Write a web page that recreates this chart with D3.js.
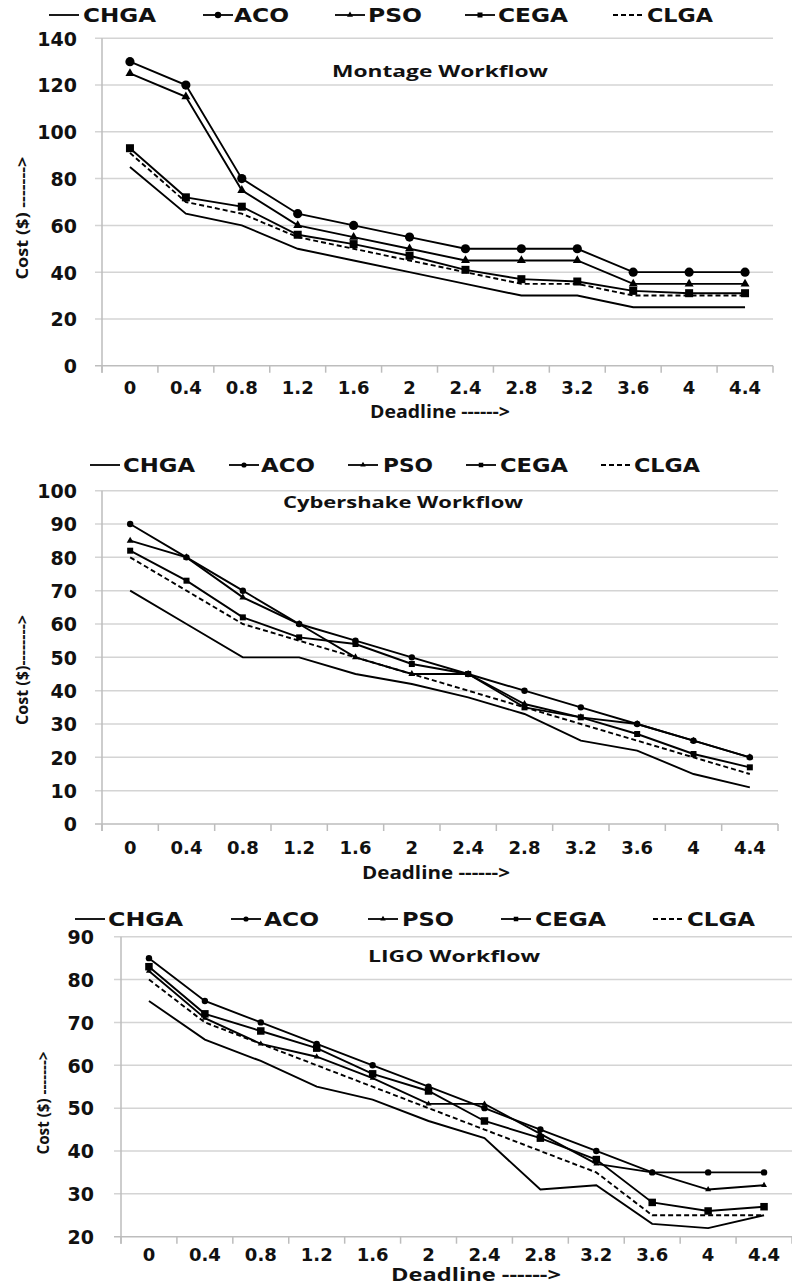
<!DOCTYPE html>
<html><head><meta charset="utf-8">
<script src="https://cdn.jsdelivr.net/npm/d3@7"></script>
<style>html,body{margin:0;padding:0;background:#fff;} svg{display:block}</style>
</head><body>
<svg id="chart" width="792" height="1287"></svg>
<script>
// ---------- DATA ----------
const deadlines = ["0","0.4","0.8","1.2","1.6","2","2.4","2.8","3.2","3.6","4","4.4"];
const algorithms = ["CHGA","ACO","PSO","CEGA","CLGA"];

const montageCHGA = [85,65,60,50,45,40,35,30,30,25,25,25];
const montageACO  = [130,120,80,65,60,55,50,50,50,40,40,40];
const montagePSO  = [125,115,75,60,55,50,45,45,45,35,35,35];
const montageCEGA = [93,72,68,56,52,47,41,37,36,32,31,31];
const montageCLGA = [91,70,65,55,50,45,40,35,35,30,30,30];
const montageTicks = [0,20,40,60,80,100,120,140];

const cyberCHGA = [70,60,50,50,45,42,38,33,25,22,15,11];
const cyberACO  = [90,80,70,60,55,50,45,40,35,30,25,20];
const cyberPSO  = [85,80,68,60,50,45,45,36,32,30,25,20];
const cyberCEGA = [82,73,62,56,54,48,45,35,32,27,21,17];
const cyberCLGA = [80,70,60,55,50,45,40,35,30,25,20,15];
const cyberTicks = [0,10,20,30,40,50,60,70,80,90,100];

const ligoCHGA = [75,66,61,55,52,47,43,31,32,23,22,25];
const ligoACO  = [85,75,70,65,60,55,50,45,40,35,35,35];
const ligoPSO  = [82,71,65,62,57,51,51,44,37,35,31,32];
const ligoCEGA = [83,72,68,64,58,54,47,43,38,28,26,27];
const ligoCLGA = [80,70,65,60,55,50,45,40,35,25,25,25];
const ligoTicks = [20,30,40,50,60,70,80,90];

const titles = ["Montage Workflow","Cybershake Workflow","LIGO Workflow"];
const yTitles = ["Cost  ($) ------->","Cost ($)-------->","Cost ($) ------->"];
const xTitle = "Deadline ------>";

// ---------- LAYOUT ----------
const layouts = [
  {series:[montageCHGA,montageACO,montagePSO,montageCEGA,montageCLGA], ticks:montageTicks,
   left:102, right:773, top:38.3, bottom:365.7, ymin:0, ymax:140, yLabelRight:77, xLabelY:388,
   title:{cx:440, cy:71, len:216}, yTitle:{cx:22, cy:218, len:123}, xTitle:{cx:440, cy:412, len:140},
   legendY:15, legendSym:[49,203,335,465,613], legendText:[83,234,368,498,647], legendLen:[73,55,54,70,66],
   mk:{r:4.6, tri:9, sq:8}, lmk:{r:3.2, tri:6, sq:5}},
  {series:[cyberCHGA,cyberACO,cyberPSO,cyberCEGA,cyberCLGA], ticks:cyberTicks,
   left:102, right:778, top:490.7, bottom:824, ymin:0, ymax:100, yLabelRight:77, xLabelY:848,
   title:{cx:403, cy:502, len:240}, yTitle:{cx:22, cy:670, len:110}, xTitle:{cx:436, cy:873, len:148},
   legendY:465, legendSym:[90,229,348,466,601], legendText:[123,261,383,500,634], legendLen:[72,54,50,68,66],
   mk:{r:3.2, tri:7, sq:6}, lmk:{r:2.6, tri:5.5, sq:4.5}},
  {series:[ligoCHGA,ligoACO,ligoPSO,ligoCEGA,ligoCLGA], ticks:ligoTicks,
   left:121, right:792, top:936.7, bottom:1236.7, ymin:20, ymax:90, yLabelRight:94, xLabelY:1255,
   title:{cx:454, cy:956, len:172}, yTitle:{cx:43, cy:1103, len:103}, xTitle:{cx:476, cy:1275, len:170},
   legendY:919, legendSym:[75,231,368,501,653], legendText:[108,264,402,535,687], legendLen:[75,55,52,71,68],
   mk:{r:3.2, tri:6, sq:7.5}, lmk:{r:2.6, tri:5.5, sq:4.5}}
];

const svg = d3.select("#chart");
const gridColor = "#d4d4d4";
const axisColor = "#bdbdbd";
const tickFont = "'DejaVu Sans', Verdana, sans-serif";
const labelFont = "'Open Sans', 'DejaVu Sans', sans-serif";

function drawMarker(g, type, cx, cy, mk) {
  if (type === "ACO") {
    g.append("circle").attr("cx", cx).attr("cy", cy).attr("r", mk.r).attr("fill", "#000");
  } else if (type === "PSO") {
    const s = mk.tri, h = s * Math.sqrt(3) / 2;
    g.append("path")
      .attr("d", `M${cx},${cy - h*2/3}L${cx + s/2},${cy + h/3}L${cx - s/2},${cy + h/3}Z`)
      .attr("fill", "#000");
  } else if (type === "CEGA") {
    g.append("rect").attr("x", cx - mk.sq/2).attr("y", cy - mk.sq/2)
      .attr("width", mk.sq).attr("height", mk.sq).attr("fill", "#000");
  }
}

layouts.forEach((L, ci) => {
  const g = svg.append("g");
  const x = d3.scaleBand().domain(deadlines).range([L.left, L.right]);
  const y = d3.scaleLinear().domain([L.ymin, L.ymax]).range([L.bottom, L.top]);

  // gridlines
  g.append("g").selectAll("line").data(L.ticks).join("line")
    .attr("x1", L.left - 7).attr("x2", L.right)
    .attr("y1", d => y(d)).attr("y2", d => y(d))
    .attr("stroke", d => d === L.ymin ? axisColor : gridColor).attr("stroke-width", 1.5);

  // y axis line
  g.append("line").attr("x1", L.left).attr("x2", L.left).attr("y1", L.top).attr("y2", L.bottom + 7)
    .attr("stroke", axisColor).attr("stroke-width", 1.5);

  // x tick marks at band boundaries
  const bounds = deadlines.map(d => x(d)).concat([x(deadlines[deadlines.length-1]) + x.bandwidth()]);
  g.append("g").selectAll("line").data(bounds).join("line")
    .attr("x1", d => d).attr("x2", d => d).attr("y1", L.bottom).attr("y2", L.bottom + 7)
    .attr("stroke", axisColor).attr("stroke-width", 1.5);

  // y tick labels
  const yAxis = g.append("g").attr("transform", `translate(${L.yLabelRight},0)`)
    .call(d3.axisLeft(y).tickValues(L.ticks).tickSize(0).tickPadding(0));
  yAxis.select(".domain").remove();
  yAxis.selectAll("text").attr("font-family", tickFont).attr("font-weight", "bold")
    .attr("font-size", 19).attr("fill", "#111").attr("dy", "0.36em");

  // x tick labels
  const xAxis = g.append("g").attr("transform", `translate(0,${L.xLabelY})`)
    .call(d3.axisBottom(x).tickSize(0).tickPadding(0));
  xAxis.select(".domain").remove();
  xAxis.selectAll("text").attr("font-family", tickFont).attr("font-weight", "bold")
    .attr("font-size", 18).attr("fill", "#111").attr("dy", "0.36em");

  // lines
  const line = d3.line().x((d, i) => x(deadlines[i]) + x.bandwidth()/2).y(d => y(d));
  L.series.forEach((vals, si) => {
    const alg = algorithms[si];
    g.append("path").datum(vals).attr("d", line)
      .attr("fill", "none").attr("stroke", "#000").attr("stroke-width", 1.9)
      .attr("stroke-dasharray", alg === "CLGA" ? "5,3" : null);
    vals.forEach((v, i) => drawMarker(g, alg, x(deadlines[i]) + x.bandwidth()/2, y(v), L.mk));
  });

  // legend
  algorithms.forEach((alg, i) => {
    const sx = L.legendSym[i];
    const ly = L.legendY;
    g.append("line").attr("x1", sx).attr("x2", sx + 30).attr("y1", ly).attr("y2", ly)
      .attr("stroke", "#000").attr("stroke-width", 1.8)
      .attr("stroke-dasharray", alg === "CLGA" ? "5,3" : null);
    drawMarker(g, alg, sx + 15, ly, L.lmk);
    g.append("text").attr("x", L.legendText[i]).attr("y", ly).attr("dy", "0.36em")
      .attr("font-family", tickFont).attr("font-weight", "bold").attr("font-size", 19)
      .attr("textLength", L.legendLen[i]).attr("lengthAdjust", "spacingAndGlyphs")
      .attr("fill", "#111").text(alg);
  });

  // chart title
  g.append("text").attr("x", L.title.cx - L.title.len/2).attr("y", L.title.cy).attr("dy", "0.36em")
    .attr("font-family", labelFont).attr("font-weight", "bold").attr("font-size", 16)
    .attr("textLength", L.title.len).attr("lengthAdjust", "spacingAndGlyphs")
    .attr("fill", "#111").text(titles[ci]);

  // y title
  g.append("text").attr("transform", `translate(${L.yTitle.cx},${L.yTitle.cy}) rotate(-90)`)
    .attr("x", -L.yTitle.len/2).attr("y", 0).attr("dy", "0.36em")
    .attr("font-family", labelFont).attr("font-weight", "bold").attr("font-size", 16)
    .attr("textLength", L.yTitle.len).attr("lengthAdjust", "spacingAndGlyphs")
    .attr("fill", "#111").text(yTitles[ci]);

  // x title
  g.append("text").attr("x", L.xTitle.cx - L.xTitle.len/2).attr("y", L.xTitle.cy).attr("dy", "0.36em")
    .attr("font-family", labelFont).attr("font-weight", "bold").attr("font-size", 17)
    .attr("textLength", L.xTitle.len).attr("lengthAdjust", "spacingAndGlyphs")
    .attr("fill", "#111").text(xTitle);
});
</script>
</body></html>
